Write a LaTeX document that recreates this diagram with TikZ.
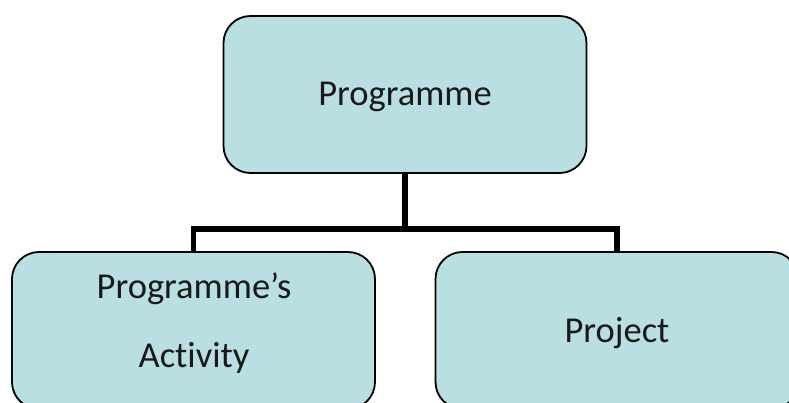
\documentclass[tikz,border=0pt]{standalone}
\usepackage{fontspec}
\setmainfont[Ligatures=NoCommon]{Carlito}
\definecolor{boxfill}{RGB}{185,223,227}
\begin{document}
\begin{tikzpicture}[x=1pt,y=-1pt,
  orgbox/.style={draw=black,line width=1.8pt,fill=boxfill,rounded corners=27pt,
    rectangle,minimum width=363pt,minimum height=157pt,inner sep=0pt},
  lbl/.style={anchor=base,inner sep=0pt,font=\fontsize{36.5}{44}\selectfont,text=black!90},
  conn/.style={draw=black,line width=5.5pt,line join=miter}]
\useasboundingbox (0,0) rectangle (789,403);
\clip (0,0) rectangle (789,403);
\node[orgbox] (top) at (405,94.5) {};
\node[orgbox] (left) at (193.5,330.5) {};
\node[orgbox] (right) at (617,330.5) {};
\node[lbl] (t1) at (405,106) {Programme};
\node[lbl] (l1) at (194,298) {Programme’s};
\node[lbl] (l2) at (194,367) {Activity};
\node[lbl] (r1) at (617,342) {Project};
\coordinate (j) at (405,229);
\draw[conn] (top.south) -- (j);
\draw[conn] (left.north) |- (j) -| (right.north);
\end{tikzpicture}
\end{document}
